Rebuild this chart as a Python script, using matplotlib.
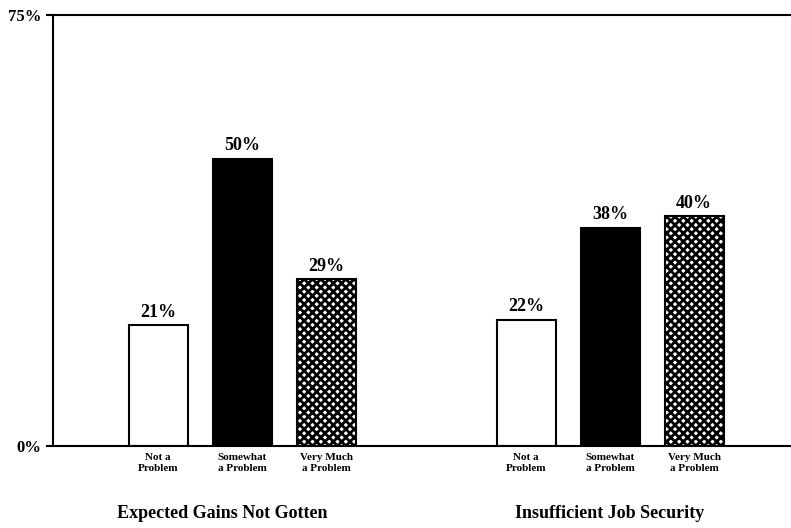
import matplotlib.pyplot as plt

plt.rcParams['font.family'] = ['Liberation Serif', 'DejaVu Serif']
plt.rcParams['hatch.linewidth'] = 2.0

groups = ["Expected Gains Not Gotten", "Insufficient Job Security"]
categories = ["Not a\nProblem", "Somewhat\na Problem", "Very Much\na Problem"]
values = [[21, 50, 29], [22, 38, 40]]

W, H = 791, 528
fig = plt.figure(figsize=(W / 100, H / 100), dpi=100)
ax = fig.add_axes([53 / W, (H - 446) / H, 1 - 53 / W, (446 - 15) / H])

# bar layout in pixel-like x units
group_start = [158, 526]
step = 84
bar_w = 59
faces = ['white', 'black', 'white']
hatches = [None, None, 'xxxx']

for g, vals in enumerate(values):
    for i, v in enumerate(vals):
        x = group_start[g] + i * step
        ax.bar(x, v, width=bar_w, color=faces[i], edgecolor='black',
               linewidth=1.5, hatch=hatches[i])
        ax.text(x, v + 0.8, f"{v}%", ha='center', va='bottom',
                fontsize=13, fontweight='bold')
        ax.text(x, -1.2, categories[i], ha='center', va='top',
                fontsize=8, fontweight='bold', linespacing=1.3)
    cx = group_start[g] + step
    ax.text(cx - (20 if g == 0 else 0), -11.7, groups[g], ha='center',
            va='center', fontsize=13, fontweight='bold')

ax.set_xlim(53, W)
ax.set_ylim(0, 75)
ax.set_yticks([0, 75])
ax.set_yticklabels(['0%', '75%'], fontsize=12, fontweight='bold')
ax.tick_params(axis='y', length=5, width=1.5)
ax.set_xticks([])
ax.spines['right'].set_visible(False)
for s in ['left', 'top', 'bottom']:
    ax.spines[s].set_linewidth(1.5)

fig.savefig('out.png', dpi=100)
